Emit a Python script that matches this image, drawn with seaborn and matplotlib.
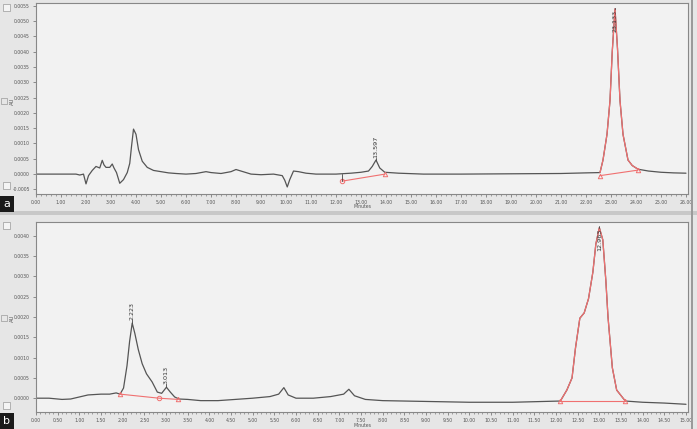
import matplotlib
matplotlib.use("Agg")
import matplotlib.pyplot as plt
import seaborn as sns
import numpy as np
from matplotlib.ticker import MultipleLocator, FormatStrFormatter
from matplotlib.patches import Rectangle

sns.set_style("ticks")
plt.rcParams['font.family'] = ['DejaVu Sans']

# ---------------- Panel a data (minutes, AU) ----------------
a_time = [0.0, 0.5, 1.0, 1.6, 1.75, 1.9, 2.0, 2.1, 2.25, 2.4, 2.55, 2.65, 2.72, 2.8, 2.95, 3.05,
          3.12, 3.22, 3.35, 3.5, 3.65, 3.75, 3.82, 3.9, 4.0, 4.1, 4.25, 4.45, 4.7, 5.0, 5.3,
          5.6, 6.0, 6.4, 6.8, 7.0, 7.4, 7.8, 8.0, 8.2, 8.6, 9.0, 9.5, 9.85, 9.95, 10.05, 10.15,
          10.3, 10.5, 10.8, 11.2, 12.0, 12.6, 13.0, 13.3, 13.45, 13.6, 13.75, 13.95, 14.5,
          15.5, 17.0, 19.0, 21.0, 22.0, 22.56, 22.68, 22.84, 22.96, 23.05, 23.16, 23.26,
          23.36, 23.48, 23.68, 23.85, 24.08, 24.5, 25.0, 25.5, 26.0]
a_au = [0.0, 0.0, 0.0, 0.0, -0.00003, 0.0, -0.00032, -0.00005, 0.00012, 0.00025, 0.0002,
        0.00045, 0.0003, 0.00022, 0.00022, 0.00033, 0.0002, 0.00005, -0.0003, -0.00018,
        0.00005, 0.00035, 0.0009, 0.00147, 0.0013, 0.0008, 0.00042, 0.00022, 0.00012, 0.00008,
        0.00004, 0.00002, 0.0, 0.00002, 0.00008, 0.00005, 0.00002, 0.00008, 0.00015, 0.0001,
        0.0, -0.00002, 0.0, -0.00005, -0.0002, -0.00042, -0.00018, 0.0001, 0.00008, 0.00003,
        0.0, 0.0, 0.00003, 0.00006, 0.0001, 0.00025, 0.00046, 0.0002, 0.00006, 0.00003,
        0.0, 0.0, 0.00001, 0.00002, 0.00004, 0.00005, 0.00046, 0.0013, 0.0024, 0.0040,
        0.0054, 0.0041, 0.0024, 0.0013, 0.00046, 0.00028, 0.00016, 0.0001, 0.00006,
        0.00004, 0.00003]
a_peak_window = [22.56, 24.08]
a_base1_time = [12.24, 13.96]
a_base1_au = [-0.00023, 0.0]
a_base2_time = [22.56, 24.08]
a_base2_au = [-0.00005, 0.00013]
a_labels = ["13.597", "23.133"]
a_label_time = [13.6, 23.16]
a_label_au = [0.00046, 0.0054]

# ---------------- Panel b data (minutes, AU) ----------------
b_time = [0.0, 0.3, 0.6, 0.8, 1.0, 1.2, 1.5, 1.7, 1.85, 1.94, 2.02, 2.1, 2.16, 2.22, 2.28,
          2.36, 2.45, 2.55, 2.68, 2.8, 2.9, 3.01, 3.1, 3.2, 3.3, 3.5, 3.8, 4.2, 4.6, 5.0,
          5.4, 5.6, 5.72, 5.82, 6.0, 6.4, 6.8, 7.1, 7.22, 7.35, 7.6, 8.0, 9.0, 10.0, 11.0,
          12.1, 12.25, 12.37, 12.45, 12.55, 12.65, 12.75, 12.85, 12.92, 13.0, 13.08, 13.15,
          13.2, 13.3, 13.4, 13.6, 14.0, 14.5, 15.0]
b_au = [0.0, 0.0, -0.00003, -0.00002, 0.00003, 0.00008, 0.0001, 0.0001, 0.00013, 0.0001,
        0.00025, 0.0008, 0.0014, 0.00185, 0.0016, 0.0012, 0.00085, 0.0006, 0.0004, 0.00015,
        0.00012, 0.00027, 0.00015, 0.00003, -0.00002, -0.00003, -0.00006, -0.00006,
        -0.00003, 0.0, 0.00004, 0.0001, 0.00026, 0.00008, 0.0, 0.0, 0.00004, 0.0001,
        0.00022, 0.00006, -0.00003, -0.00006, -0.00008, -0.0001, -0.0001, -0.00007,
        0.0002, 0.0005, 0.00124, 0.00197, 0.0021, 0.00245, 0.0031, 0.0038, 0.0042, 0.0039,
        0.0029, 0.002, 0.00075, 0.0002, -0.00007, -0.0001, -0.00012, -0.00015]
b_peak_window = [12.1, 13.6]
b_base1_time = [1.94, 2.84, 3.28]
b_base1_au = [0.0001, 0.0, -0.00003]
b_base2_time = [12.1, 13.6]
b_base2_au = [-0.00007, -0.00007]
b_labels = ["2.223", "3.013", "12.963"]
b_label_time = [2.22, 3.01, 13.0]
b_label_au = [0.00185, 0.00027, 0.0042]

W, H = 697, 429
fig = plt.figure(figsize=(W / 100, H / 100), dpi=100)
fig.patch.set_facecolor('#e6e6e6')

def px_axes(x0, y0, x1, y1):
    return fig.add_axes([x0 / W, 1 - y1 / H, (x1 - x0) / W, (y1 - y0) / H])

BLACK = '#555555'
RED = '#f07070'
TICK_FS = 3.3

def draw_panel(ax, t, au, window, bases, labels, lt, la, inside, xlim, ylim, xmaj, xmin,
               yticks, label_off):
    ax.set_facecolor('#f2f2f2')
    t = np.array(t); au = np.array(au)
    sns.lineplot(x=t, y=au, ax=ax, color=BLACK, linewidth=0.9, estimator=None, sort=False)
    m = (t >= window[0]) & (t <= window[1])
    sns.lineplot(x=t[m], y=au[m], ax=ax, color=RED, linewidth=0.9, estimator=None, sort=False)
    for bt, ba, marks in bases:
        sns.lineplot(x=bt, y=ba, ax=ax, color=RED, linewidth=0.8, estimator=None, sort=False)
        for x, y, mk in zip(bt, ba, marks):
            ax.plot(x, y, marker=mk, mfc='none', mec=RED, ms=3.2, mew=0.7)
    for s, x, y, ins in zip(labels, lt, la, inside):
        if ins:
            ax.plot([x, x], [y, y + label_off * 2], color='#444444', lw=0.6)
            ax.text(x, y - label_off * 1.5, s, rotation=90, fontsize=4.6, color='#333333',
                    ha='center', va='top')
        else:
            ax.plot([x, x], [y, y + label_off * 4], color='#444444', lw=0.6)
            ax.text(x, y + label_off * 4, s, rotation=90, fontsize=4.6, color='#333333',
                    ha='center', va='bottom')
    ax.set_xlim(*xlim); ax.set_ylim(*ylim)
    ax.xaxis.set_major_locator(MultipleLocator(xmaj))
    ax.xaxis.set_minor_locator(MultipleLocator(xmin))
    ax.xaxis.set_major_formatter(FormatStrFormatter('%.2f'))
    ax.set_yticks(yticks)
    ax.yaxis.set_major_formatter(FormatStrFormatter('%.4f'))
    ax.tick_params(axis='both', which='major', labelsize=TICK_FS, length=2.5, width=0.5,
                   colors='#666666', labelcolor='#555555', pad=1.8)
    ax.tick_params(axis='x', which='minor', length=1.5, width=0.4, colors='#666666')
    for sp in ax.spines.values():
        sp.set_color('#888888'); sp.set_linewidth(0.8)
    ax.set_xlabel(''); ax.set_ylabel('')

# panel a
axa = px_axes(36, 3, 688, 194)
draw_panel(axa, a_time, a_au, a_peak_window,
           [(a_base1_time, a_base1_au, ['o', '^']), (a_base2_time, a_base2_au, ['^', '^'])],
           a_labels, a_label_time, a_label_au, [False, True],
           (0, 26.08), (-0.00065, 0.00559), 1.0, 0.2,
           np.round(np.arange(-0.0005, 0.00551, 0.0005), 4), 0.00002)
axa.plot([a_base1_time[0]] * 2, [a_base1_au[0], 0.0], color='#444444', lw=0.6)
fig.text(362 / W, 1 - 207 / H, 'Minutes', fontsize=TICK_FS, color='#555555', ha='center',
         va='center')

# panel b
axb = px_axes(36, 222, 688, 412)
draw_panel(axb, b_time, b_au, b_peak_window,
           [(b_base1_time, b_base1_au, ['^', 'o', '^']), (b_base2_time, b_base2_au, ['^', '^'])],
           b_labels, b_label_time, b_label_au, [False, False, True],
           (0, 15.046), (-0.00034, 0.00434), 0.5, 0.1,
           np.round(np.arange(0.0, 0.00401, 0.0005), 4), 0.00002)
fig.text(362 / W, 1 - 425.5 / H, 'Minutes', fontsize=TICK_FS, color='#555555', ha='center',
         va='center')

# AU labels
for yc in (101, 318):
    fig.text(12 / W, 1 - yc / H, 'AU', fontsize=3.8, rotation=90, color='#555555',
             ha='center', va='center')

# left strip widgets, separators, panel tags
for (x0, y0, w, h) in [(3, 4, 7, 7), (3, 182, 7, 7), (3, 222, 7, 7), (3, 402, 7, 7)]:
    fig.add_artist(Rectangle((x0 / W, 1 - (y0 + h) / H), w / W, h / H, transform=fig.transFigure,
                             facecolor='#f4f4f4', edgecolor='#999999', lw=0.5))
for yc in (98, 315):
    fig.add_artist(Rectangle((1 / W, 1 - (yc + 6) / H), 6 / W, 6 / H, transform=fig.transFigure,
                             facecolor='none', edgecolor='#999999', lw=0.5))
fig.add_artist(Rectangle((0, 1 - 215 / H), 1, 4 / H, transform=fig.transFigure,
                         facecolor='#c8c8c8', edgecolor='none'))
fig.add_artist(Rectangle((691 / W, 0), 1.5 / W, 1, transform=fig.transFigure,
                         facecolor='#9a9a9a', edgecolor='none'))
for txt, y0 in (('a', 196), ('b', 413)):
    fig.add_artist(Rectangle((0, 1 - (y0 + 16) / H), 14 / W, 16 / H, transform=fig.transFigure,
                             facecolor='#1a1a1a', edgecolor='none'))
    fig.text(7 / W, 1 - (y0 + 8) / H, txt, color='white', fontsize=8, ha='center', va='center')

fig.savefig('out.png', dpi=100, facecolor=fig.get_facecolor())
